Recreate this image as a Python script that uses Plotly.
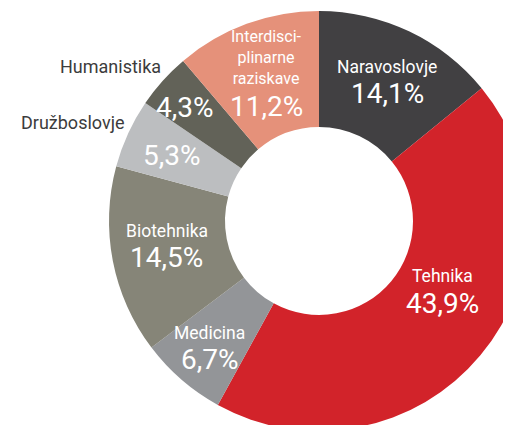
import math
import plotly.graph_objects as go

# data, clockwise from 12 o'clock
labels = ["Naravoslovje", "Tehnika", "Medicina", "Biotehnika",
          "Družboslovje", "Humanistika", "Interdisciplinarne raziskave"]
name_text = ["Naravoslovje", "Tehnika", "Medicina", "Biotehnika",
             "Družboslovje", "Humanistika", "Interdisci-<br>plinarne<br>raziskave"]
values = [14.1, 43.9, 6.7, 14.5, 5.3, 4.3, 11.2]
pct_text = ["14,1%", "43,9%", "6,7%", "14,5%", "5,3%", "4,3%", "11,2%"]
colors = ["#414042", "#d2232a", "#939598", "#868578",
          "#bcbec0", "#626258", "#e5917a"]
outside_name = [False, False, False, False, True, True, False]

# geometry (pixels) - figure is larger than the window, so the donut gets cut
W, H = 560, 460
OFF = 8            # body margin of the page
CX, CY = 319 - OFF, 221 - OFF
R_OUT, R_IN = 210, 94
R_LBL = 152
# small hand nudges for the percentage labels (px)
nudge = [(3, 10), (7, -15), (-10, 24), (-3, 8), (-9, -2), (-21, -12), (0, 28)]

fig = go.Figure(go.Pie(
    labels=labels,
    values=values,
    sort=False,
    direction="clockwise",
    rotation=0,
    hole=R_IN / R_OUT,
    marker=dict(colors=colors, line=dict(width=0)),
    textinfo="none",
    hoverinfo="label+percent",
    showlegend=False,
    domain=dict(x=[(CX - R_OUT) / W, (CX + R_OUT) / W],
                y=[(H - CY - R_OUT) / H, (H - CY + R_OUT) / H]),
))


def to_paper(px, py):
    return px / W, 1 - py / H


total = sum(values)
cum = 0
for i, v in enumerate(values):
    ang = math.radians((cum + v / 2) / total * 360)
    cum += v
    sx, sy = math.sin(ang), -math.cos(ang)
    px = CX + R_LBL * sx + nudge[i][0]
    py = CY + R_LBL * sy + nudge[i][1]
    x, y = to_paper(px, py)
    fig.add_annotation(x=x, y=y, xref="paper", yref="paper", text=pct_text[i],
                       showarrow=False, xanchor="center", yanchor="middle",
                       font=dict(family="Roboto", size=28, color="white"))
    if outside_name[i]:
        x, y = to_paper(CX + 220 * sx + 8, CY + 220 * sy - 7)
        fig.add_annotation(x=x, y=y, xref="paper", yref="paper", text=name_text[i],
                           showarrow=False, xanchor="right", yanchor="middle",
                           font=dict(family="Roboto", size=18, color="#3c3c3c"))
    else:
        n = name_text[i].count("<br>")
        x, y = to_paper(px, py - 27 - n * 11)
        fig.add_annotation(x=x, y=y, xref="paper", yref="paper", text=name_text[i],
                           showarrow=False, xanchor="center", yanchor="middle",
                           font=dict(family="Roboto", size=16 if n else 17.5,
                                     color="white"))

fig.update_layout(
    width=W, height=H,
    margin=dict(l=0, r=0, t=0, b=0),
    paper_bgcolor="white",
    plot_bgcolor="white",
)

fig.write_html("out.html")
